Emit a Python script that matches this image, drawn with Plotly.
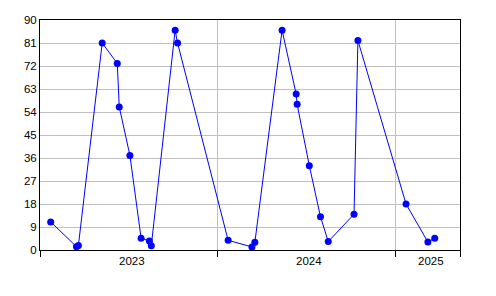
import plotly.graph_objects as go

dates = ["2023-01-23", "2023-03-17", "2023-03-21", "2023-05-09", "2023-06-09", "2023-06-13",
         "2023-07-05", "2023-07-28", "2023-08-14", "2023-08-18", "2023-10-06", "2023-10-11",
         "2024-01-23", "2024-03-12", "2024-03-18", "2024-05-13", "2024-06-11", "2024-06-13",
         "2024-07-08", "2024-07-31", "2024-08-16", "2024-10-08", "2024-10-16",
         "2025-01-23", "2025-03-09", "2025-03-23"]
values = [11, 1.3, 1.8, 81, 73, 56, 37, 4.6, 3.5, 1.7, 86, 81,
          3.8, 1.2, 3, 86, 61, 57, 33, 13, 3.3, 14, 82,
          18, 3.1, 4.6]

year_labels = ["2023", "2024", "2025"]
year_label_pos = ["2023-07-09", "2024-07-07", "2025-03-15"]
year_bounds = ["2023-01-01", "2024-01-01", "2025-01-01", "2025-05-14"]
y_ticks = list(range(0, 91, 9))

fig = go.Figure()
fig.add_trace(go.Scatter(
    x=dates, y=values, mode="lines+markers",
    line=dict(color="#0000ff", width=1),
    marker=dict(color="#0000ff", size=7),
    cliponaxis=False,
))

font = dict(family="Liberation Sans, Arial, sans-serif", size=11.5, color="black")

fig.update_layout(
    width=496, height=296,
    margin=dict(l=40, r=36, t=20, b=46),
    paper_bgcolor="white", plot_bgcolor="white",
    showlegend=False,
    font=font,
    xaxis=dict(
        type="date",
        range=[year_bounds[0], year_bounds[-1]],
        tickmode="array", tickvals=year_label_pos, ticktext=year_labels,
        ticks="", showgrid=False, zeroline=False,
        showline=True, linecolor="black", linewidth=1, mirror=True,
        tickfont=font,
        minor=dict(tickmode="array", tickvals=year_bounds, ticks="outside",
                   ticklen=6, tickcolor="black", tickwidth=1,
                   showgrid=True, gridcolor="#c0c0c0", gridwidth=1),
    ),
    yaxis=dict(
        range=[0, 90], tickmode="array", tickvals=y_ticks,
        ticks="", showgrid=True, gridcolor="#c0c0c0", gridwidth=1,
        zeroline=False,
        showline=True, linecolor="black", linewidth=1, mirror=True,
        tickfont=font,
    ),
)

fig.write_html("out.html")
